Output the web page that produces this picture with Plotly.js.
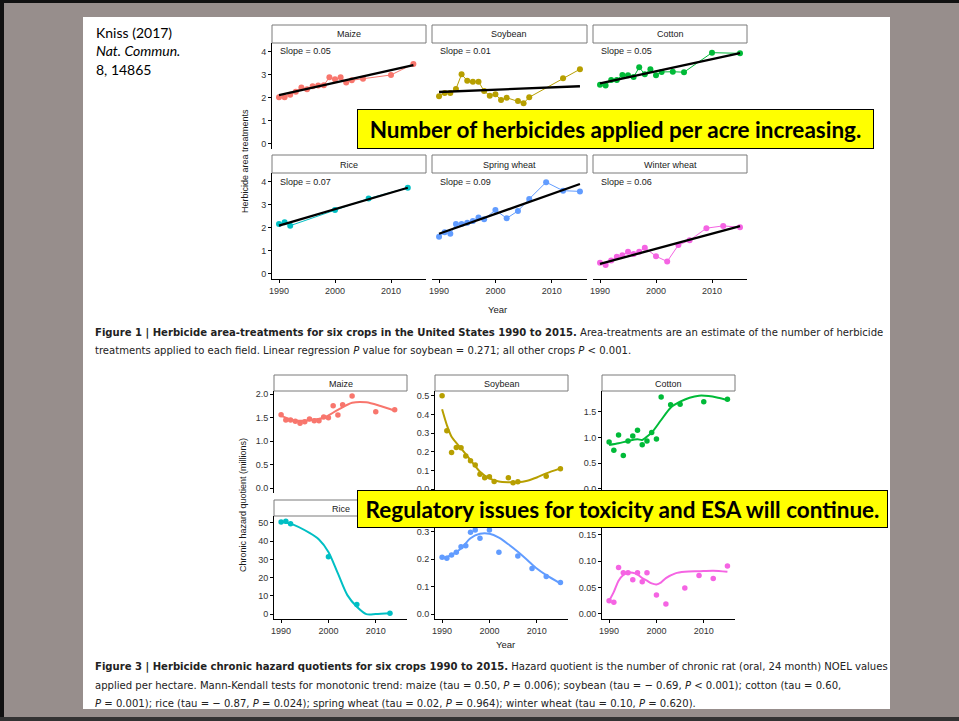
<!DOCTYPE html>
<html><head><meta charset="utf-8">
<script src="https://cdn.plot.ly/plotly-3.0.1.min.js"></script>
<style>html,body{margin:0;padding:0;background:#978e8c;} #chart{width:959px;height:721px;}</style>
</head><body><div id="chart"></div>
<script>
// ---------------- DATA ----------------
// Figure 1: herbicide area-treatments
const crops = ["Maize","Soybean","Cotton","Rice","Spring wheat","Winter wheat"];
const slopeLabels = ["Slope = 0.05","Slope = 0.01","Slope = 0.05","Slope = 0.07","Slope = 0.09","Slope = 0.06"];
const maizeYears = [1990,1991,1992,1993,1994,1995,1996,1997,1998,1999,2000,2001,2002,2003,2005,2010,2014];
const maizeArea = [2.03,2.03,2.14,2.27,2.45,2.38,2.51,2.54,2.55,2.90,2.81,2.90,2.67,2.77,2.83,3.00,3.48];
const soyYears = [1990,1991,1992,1993,1994,1995,1996,1997,1998,1999,2000,2001,2002,2004,2005,2006,2012,2015];
const soyArea = [2.07,2.22,2.22,2.39,3.03,2.75,2.71,2.71,2.30,2.10,2.16,1.91,2.01,1.87,1.77,2.03,2.86,3.25];
const cottonYears = [1990,1991,1992,1993,1994,1995,1996,1997,1998,1999,2000,2001,2003,2005,2010,2015];
const cottonArea = [2.57,2.54,2.78,2.78,3.00,2.99,2.91,3.33,3.03,3.25,2.99,3.13,3.14,3.12,3.97,3.94];
const riceYears = [1990,1991,1992,2000,2006,2013];
const riceArea = [2.17,2.25,2.10,2.78,3.28,3.75];
const wheatYears = [1990,1991,1992,1993,1994,1995,1996,1997,1998,2000,2002,2004,2006,2009,2012,2015];
const springArea = [1.62,1.81,1.75,2.17,2.17,2.23,2.30,2.46,2.38,2.78,2.42,2.74,3.26,3.99,3.62,3.59];
const winterArea = [0.49,0.39,0.58,0.75,0.81,0.96,0.87,0.96,1.14,0.77,0.54,1.26,1.46,1.99,2.09,2.03];
const fig1YTicks = [0,1,2,3,4];
const yearTicks = [1990,2000,2010];

// Figure 3: chronic hazard quotients (points + smooth curve)
const maizeHQ = [1.567,1.453,1.453,1.425,1.382,1.418,1.474,1.439,1.439,1.517,1.503,1.758,1.560,1.780,1.964,1.631,1.673];
const maizeSmoothYears = [1990,1993,1996,1999,2002,2005,2008,2011,2014];
const maizeSmooth = [1.54,1.44,1.45,1.50,1.67,1.82,1.83,1.75,1.65];
const soyHQYears = [1990,1991,1992,1993,1994,1995,1996,1997,1998,1999,2000,2001,2004,2005,2006,2012,2015];
const soyHQ = [0.500,0.312,0.196,0.223,0.221,0.177,0.152,0.129,0.079,0.061,0.066,0.041,0.061,0.034,0.039,0.068,0.109];
const soySmoothYears = [1990,1991,1992,1994,1996,1998,2000,2002,2004,2006,2008,2010,2012,2015];
const soySmooth = [0.427,0.343,0.280,0.218,0.155,0.093,0.057,0.041,0.037,0.037,0.045,0.062,0.084,0.111];
const cottonHQ = [0.911,0.749,1.047,0.646,0.930,1.027,1.137,0.859,0.930,1.092,0.969,1.783,1.634,1.641,1.692,1.738];
const cottonSmoothYears = [1990,1992,1994,1996,1997,1998,1999,2001,2003,2005,2007,2009,2011,2013,2015];
const cottonSmooth = [0.853,0.885,0.930,0.963,0.950,1.014,1.092,1.337,1.576,1.692,1.770,1.809,1.802,1.770,1.725];
const riceHQ = [50.5,50.9,49.6,31.4,5.3,0.4];
const riceSmoothYears = [1990,1992,1996,1998,2000,2002,2004,2006,2008,2010,2013];
const riceSmooth = [50.5,49.6,44.5,40.9,34.1,22.3,10.4,4.0,0.0,0.0,0.4];
const wheatHQYears = [1990,1991,1992,1993,1994,1995,1996,1997,1998,2000,2002,2006,2009,2012,2015];
const springHQ = [0.207,0.203,0.215,0.225,0.245,0.249,0.298,0.306,0.276,0.306,0.225,0.211,0.166,0.137,0.115];
const springSmoothYears = [1990,1992,1994,1996,1998,2000,2002,2004,2006,2008,2010,2012,2015];
const springSmooth = [0.203,0.215,0.239,0.276,0.292,0.292,0.278,0.254,0.227,0.197,0.166,0.142,0.112];
const winterHQ = [0.025,0.022,0.088,0.078,0.078,0.065,0.078,0.061,0.078,0.036,0.019,0.049,0.073,0.067,0.091];
const winterSmoothYears = [1990,1991,1992,1993,1994,1995,1996,1997,1998,1999,2000,2001,2002,2004,2006,2009,2012,2015];
const winterSmooth = [0.025,0.042,0.063,0.074,0.078,0.078,0.075,0.068,0.063,0.058,0.056,0.060,0.068,0.077,0.080,0.081,0.082,0.080];
const maizeHQTicks = [0,0.5,1,1.5,2];
const soyHQTicks = [0,0.1,0.2,0.3,0.4,0.5];
const cottonHQTicks = [0,0.5,1,1.5];
const riceHQTicks = [0,10,20,30,40,50];
const springHQTicks = [0,0.1,0.2,0.3];
const winterHQTicks = [0,0.05,0.10,0.15];

// ---------------- LAYOUT HELPERS ----------------
const W=959,H=721;
const X=p=>p/W, Y=p=>1-p/H;
const palette = ["#F8766D","#B79F00","#00BA38","#00BFC4","#619CFF","#F564E3"];
const tickFont = {family:"Liberation Sans, Arial, sans-serif", size:9, color:"#333"};
const smallFont = {family:"Liberation Sans, Arial, sans-serif", size:9, color:'#1a1a1a'};
const traces=[], shapes=[], annotations=[];
const layout = {
  width:W, height:H, margin:{l:0,r:0,t:0,b:0},
  paper_bgcolor:"#978e8c", plot_bgcolor:"rgba(0,0,0,0)", showlegend:false,
  shapes:shapes, annotations:annotations, hovermode:false
};
function note(px, py, text, font, extra){
  annotations.push(Object.assign({xref:'paper', yref:'paper', x:X(px), y:Y(py), text:text, showarrow:false,
    xanchor:'center', yanchor:'middle', font:font}, extra||{}));
}

function addPanel(n, box, xr, yr, opt){
  const s = n===1?'':n;
  layout['xaxis'+s] = {domain:[X(box[0]),X(box[1])], range:xr, anchor:'y'+s,
    showgrid:false, zeroline:false, showline:opt.xline, linecolor:'#000', linewidth:1,
    ticks:opt.xline?'outside':'', ticklen:3, tickwidth:1, tickcolor:'#000',
    showticklabels:!!opt.xline, tickvals:yearTicks, tickfont:tickFont, fixedrange:true};
  layout['yaxis'+s] = {domain:[Y(box[3]),Y(box[2])], range:yr, anchor:'x'+s,
    showgrid:false, zeroline:false, showline:opt.yline, linecolor:'#000', linewidth:1,
    ticks:opt.yline?'outside':'', ticklen:3, tickwidth:1, tickcolor:'#000',
    showticklabels:!!opt.yline, tickvals:opt.yt, tickformat:opt.fmt||'', tickfont:tickFont, fixedrange:true};
  shapes.push({type:'rect', xref:'paper', yref:'paper', x0:X(box[0]), x1:X(box[1]), y0:Y(opt.strip[1]), y1:Y(opt.strip[0]),
    fillcolor:'#fff', line:{color:'#7a7a7a', width:1}, layer:'above'});
  note((box[0]+box[1])/2, (opt.strip[0]+opt.strip[1])/2+0.5, opt.label, smallFont);
}

function linfit(xs, ys){
  const n=xs.length; let sx=0,sy=0,sxx=0,sxy=0;
  for(let i=0;i<n;i++){sx+=xs[i];sy+=ys[i];sxx+=xs[i]*xs[i];sxy+=xs[i]*ys[i];}
  const b=(n*sxy-sx*sy)/(n*sxx-sx*sx), a=(sy-b*sx)/n;
  const x0=Math.min(...xs), x1=Math.max(...xs);
  return {x:[x0,x1], y:[a+b*x0, a+b*x1]};
}

// ---------------- FIGURE 1 ----------------
const f1cols = [[272,426],[432,587],[593,747]];
const f1rows = [{strip:[25,43], plot:[43,149]},{strip:[155,173], plot:[173,279]}];
const f1x = [1988.75,2016.25], f1y = [-0.22,4.39];
const f1series = [[maizeYears,maizeArea],[soyYears,soyArea],[cottonYears,cottonArea],
                  [riceYears,riceArea],[wheatYears,springArea],[wheatYears,winterArea]];
f1series.forEach((sr,i)=>{
  const n=i+1, r=Math.floor(i/3), c=i%3;
  const box=[f1cols[c][0], f1cols[c][1], f1rows[r].plot[0], f1rows[r].plot[1]];
  addPanel(n, box, f1x, f1y, {xline:r===1, yline:c===0, yt:fig1YTicks, strip:f1rows[r].strip, label:crops[i]});
  const s=n===1?'':n;
  traces.push({x:sr[0], y:sr[1], xaxis:'x'+s, yaxis:'y'+s, type:'scatter', mode:'lines+markers',
    line:{color:palette[i], width:1}, marker:{color:palette[i], size:6}, cliponaxis:false});
  const f=linfit(sr[0], sr[1]);
  traces.push({x:f.x, y:f.y, xaxis:'x'+s, yaxis:'y'+s, type:'scatter', mode:'lines', line:{color:'#000', width:2.3}});
  note(box[0]+6, box[2]+8.5, slopeLabels[i], smallFont, {xanchor:'left'});
});
note(497, 309, 'Year', {family:"Liberation Sans, Arial, sans-serif", size:9.5, color:'#1a1a1a'});
note(245, 161, 'Herbicide area treatments', smallFont, {textangle:-90});

// ---------------- FIGURE 3 ----------------
const f3cols = [[274,407],[435,568],[602,735]];
const f3rows = [{strip:[375,391], plot:[391,493]},{strip:[500,516], plot:[516,619]}];
const f3x = [1988.5,2016.6];
const f3yr = [[-0.10,2.07],[-0.021,0.525],[-0.08,1.90],[-2.7,53.8],[-0.018,0.357],[-0.0095,0.1856]];
const f3yt = [maizeHQTicks,soyHQTicks,cottonHQTicks,riceHQTicks,springHQTicks,winterHQTicks];
const f3fmt = ['.1f','.1f','.1f','d','.1f','.2f'];
const f3pts = [[maizeYears,maizeHQ],[soyHQYears,soyHQ],[cottonYears,cottonHQ],[riceYears,riceHQ],[wheatHQYears,springHQ],[wheatHQYears,winterHQ]];
const f3sm = [[maizeSmoothYears,maizeSmooth],[soySmoothYears,soySmooth],[cottonSmoothYears,cottonSmooth],
              [riceSmoothYears,riceSmooth],[springSmoothYears,springSmooth],[winterSmoothYears,winterSmooth]];
f3pts.forEach((sr,i)=>{
  const n=i+7, r=Math.floor(i/3), c=i%3;
  const box=[f3cols[c][0], f3cols[c][1], f3rows[r].plot[0], f3rows[r].plot[1]];
  addPanel(n, box, f3x, f3yr[i], {xline:r===1, yline:true, yt:f3yt[i], fmt:f3fmt[i], strip:f3rows[r].strip, label:crops[i]});
  const s=n;
  traces.push({x:sr[0], y:sr[1], xaxis:'x'+s, yaxis:'y'+s, type:'scatter', mode:'markers',
    marker:{color:palette[i], size:5.5}, cliponaxis:false});
  traces.push({x:f3sm[i][0], y:f3sm[i][1], xaxis:'x'+s, yaxis:'y'+s, type:'scatter', mode:'lines',
    line:{color:palette[i], width:2, shape:'spline', smoothing:0.8}});
});
note(505, 644, 'Year', {family:"Liberation Sans, Arial, sans-serif", size:9.5, color:'#1a1a1a'});
note(243, 505, 'Chronic hazard quotient (millions)', smallFont, {textangle:-90});

// ---------------- SLIDE DECORATION ----------------
shapes.unshift({type:'rect', xref:'paper', yref:'paper', x0:X(83), x1:X(890), y0:Y(709), y1:Y(17), fillcolor:'#fff', line:{width:0}, layer:'below'});
shapes.push({type:'rect', xref:'paper', yref:'paper', x0:0, x1:1, y0:Y(3), y1:1, fillcolor:'#111', line:{width:0}, layer:'above'});
shapes.push({type:'rect', xref:'paper', yref:'paper', x0:0, x1:X(4), y0:0, y1:1, fillcolor:'#111', line:{width:0}, layer:'above'});
shapes.push({type:'rect', xref:'paper', yref:'paper', x0:0, x1:1, y0:0, y1:Y(717), fillcolor:'#333', line:{width:0}, layer:'above'});
// citation
const citeFont = {family:"Lato, Open Sans, sans-serif", size:14, color:'#000'};
[["Kniss (2017)",33],["<i>Nat. Commun.</i>",51],["8, 14865",70]].forEach(t=>{
  note(94, t[1], t[0], citeFont, {xanchor:'left'});
});
// captions
const capFont = {family:"Liberation Sans Narrow, DejaVu Sans Condensed, sans-serif", size:11.2, color:'#222'};
const captions = [
 ["<b>Figure 1 | Herbicide area-treatments for six crops in the United States 1990 to 2015.</b> Area-treatments are an estimate of the number of herbicide",332],
 ["treatments applied to each field. Linear regression <i>P</i> value for soybean = 0.271; all other crops <i>P</i> < 0.001.",350],
 ["<b>Figure 3 | Herbicide chronic hazard quotients for six crops 1990 to 2015.</b> Hazard quotient is the number of chronic rat (oral, 24 month) NOEL values",666],
 ["applied per hectare. Mann-Kendall tests for monotonic trend: maize (tau = 0.50, <i>P</i> = 0.006); soybean (tau = − 0.69, <i>P</i> < 0.001); cotton (tau = 0.60,",685],
 ["<i>P</i> = 0.001); rice (tau = − 0.87, <i>P</i> = 0.024); spring wheat (tau = 0.02, <i>P</i> = 0.964); winter wheat (tau = 0.10, <i>P</i> = 0.620).",703]
];
captions.forEach(c=> note(93, c[1], c[0], capFont, {xanchor:'left'}));
// highlight boxes (drawn last so they cover everything beneath)
const boxFont = {family:"Lato, Open Sans, sans-serif", size:22.5, color:'#000'};
note(357, 109, '<b>Number of herbicides applied per acre increasing.</b>', boxFont,
  {xanchor:'left', yanchor:'top', width:515, height:38, bgcolor:'#ffff00', bordercolor:'#000', borderwidth:1, borderpad:0, align:'center', valign:'middle'});
note(357, 490, '<b>Regulatory issues for toxicity and ESA will continue.</b>', boxFont,
  {xanchor:'left', yanchor:'top', width:529, height:36, bgcolor:'#ffff00', bordercolor:'#000', borderwidth:1, borderpad:0, align:'center', valign:'middle'});

Plotly.newPlot('chart', traces, layout, {staticPlot:true, displayModeBar:false});
</script>
</body></html>
